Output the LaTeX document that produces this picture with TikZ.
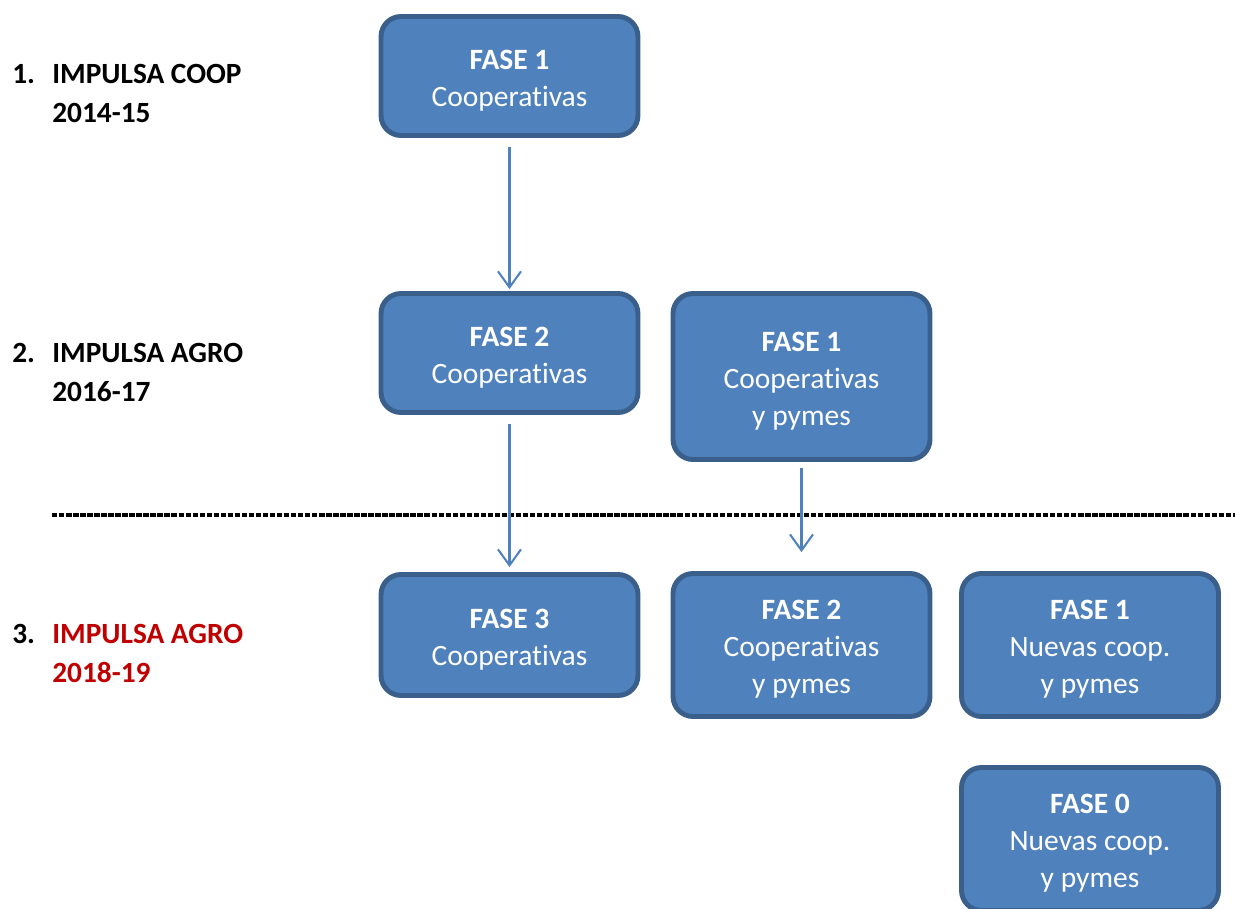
\documentclass[tikz,border=0pt]{standalone}
\usepackage{fontspec}
\setmainfont{Carlito}[Ligatures=NoCommon]
\usetikzlibrary{arrows.meta}
\definecolor{boxfill}{HTML}{4F81BD}
\definecolor{boxedge}{HTML}{3A5F8B}
\definecolor{labred}{HTML}{C00000}
\newcommand{\topstrut}{\rule{0pt}{16pt}}
\tikzset{
  fasebox/.style={draw=boxedge, fill=boxfill, line width=2.8pt, rounded corners=0.4cm,
    minimum width=5.14cm, align=center, text=white, inner sep=0pt,
    font=\fontsize{16.8}{21}\selectfont},
  flow/.style={draw=boxfill, line width=1.15pt, -{Straight Barb[length=0.32cm,width=0.46cm,line width=1.15pt]}},
  lab/.style={anchor=west, align=left, inner sep=0pt, font=\fontsize{16.7}{22}\selectfont\bfseries},
  num/.style={anchor=west, inner sep=0pt, font=\fontsize{16.7}{22}\selectfont\bfseries},
  sepline/.style={draw=black, line width=1.9pt, dash pattern=on 3.1pt off 0.9pt}
}
\begin{document}
\begin{tikzpicture}[x=0.02cm,y=-0.02cm]
\clip (0,0) rectangle (1235,909);
\fill[white] (0,0) rectangle (1235,909);

% labels
\node[num] (n1) at (12,74) {1.};
\node[lab] (l1) at (52,93.5) {IMPULSA COOP\\2014-15};
\node[num] (n2) at (12,353) {2.};
\node[lab] (l2) at (52,372.5) {IMPULSA AGRO\\2016-17};
\node[num] (n3) at (12,634) {3.};
\node[lab, text=labred] (l3) at (52,653.5) {IMPULSA AGRO\\2018-19};

% separator
\coordinate (sl) at (52,515);
\coordinate (sr) at (1235,515);
\draw[sepline] (sl) -- (sr);

% boxes
\node[fasebox, minimum height=2.38cm] (b1) at (509.5,76) {\topstrut\textbf{FASE 1}\\Cooperativas};
\node[fasebox, minimum height=2.38cm] (b2) at (509.5,353) {\topstrut\textbf{FASE 2}\\Cooperativas};
\node[fasebox, minimum height=3.32cm] (b3) at (801.5,376.5) {\topstrut\textbf{FASE 1}\\Cooperativas\\y pymes};
\node[fasebox, minimum height=2.42cm] (b4) at (509.5,635) {\topstrut\textbf{FASE 3}\\Cooperativas};
\node[fasebox, minimum height=2.86cm] (b5) at (801.5,645) {\topstrut\textbf{FASE 2}\\Cooperativas\\y pymes};
\node[fasebox, minimum height=2.86cm] (b6) at (1090,645) {\topstrut\textbf{FASE 1}\\Nuevas coop.\\y pymes};
\node[fasebox, minimum height=2.86cm] (b7) at (1090,839) {\topstrut\textbf{FASE 0}\\Nuevas coop.\\y pymes};

% arrows
\draw[flow, shorten <=9*0.567pt, shorten >=2*0.567pt] (b1.south) -- (b2.north);
\draw[flow, shorten <=9*0.567pt, shorten >=5*0.567pt] (b2.south) -- (b4.north);
\draw[flow, shorten <=6*0.567pt, shorten >=19*0.567pt] (b3.south) -- (b5.north);
\end{tikzpicture}
\end{document}
